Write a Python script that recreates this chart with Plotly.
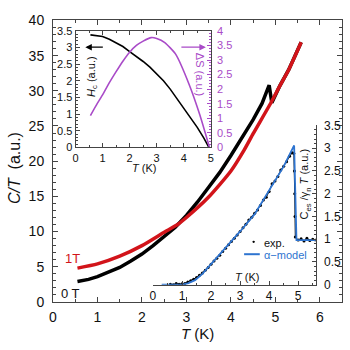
import plotly.graph_objects as go

# ---------------- data ----------------
# main panel: C/T vs T
t0 = [0.55, 0.8, 1.0, 1.25, 1.5, 1.75, 2.0, 2.25, 2.5, 2.75, 3.0, 3.25, 3.5, 3.75, 4.0, 4.25, 4.5, 4.7, 4.86, 4.92, 5.1, 5.3, 5.58]
c0 = [2.9, 3.2, 3.6, 4.2, 4.9, 5.8, 6.8, 8.0, 9.3, 10.6, 12.3, 14.2, 16.3, 18.4, 20.8, 23.3, 25.9, 28.2, 30.8, 28.3, 30.7, 33.0, 36.9]
t1 = [0.55, 1.0, 1.5, 2.0, 2.5, 2.8, 3.0, 3.5, 4.0, 4.3, 4.5, 4.9, 5.1, 5.3, 5.58]
c1 = [4.8, 5.4, 6.5, 8.0, 9.9, 11.0, 12.0, 14.9, 18.6, 21.6, 23.9, 28.3, 30.7, 33.0, 36.9]

# inset 1: critical field and entropy difference
ti = [0.55, 0.8, 1.0, 1.25, 1.5, 1.75, 2.0, 2.25, 2.5, 2.75, 3.0, 3.25, 3.5, 3.75, 4.0, 4.25, 4.5, 4.75, 4.93]
hc = [3.38, 3.36, 3.33, 3.25, 3.15, 3.03, 2.88, 2.74, 2.58, 2.41, 2.22, 2.0, 1.75, 1.47, 1.18, 0.9, 0.6, 0.27, 0.0]
ts = [0.55, 0.8, 1.0, 1.25, 1.5, 1.75, 2.0, 2.25, 2.5, 2.8, 3.0, 3.3, 3.7, 4.2, 4.6, 4.95]
ds = [1.09, 1.5, 1.8, 2.22, 2.6, 2.96, 3.27, 3.5, 3.65, 3.77, 3.74, 3.6, 3.2, 2.16, 1.1, 0.0]

# inset 2: electronic specific heat
te = [0.6, 0.7, 0.8, 0.9, 1.0, 1.1, 1.2, 1.3, 1.4, 1.5, 1.6, 1.7, 1.8, 1.9, 2.0, 2.1, 2.2, 2.3, 2.4,
      2.5, 2.6, 2.7, 2.8, 2.9, 3.0, 3.1, 3.2, 3.3, 3.4, 3.5, 3.6, 3.7, 3.8, 3.9, 4.0, 4.1, 4.2, 4.3,
      4.4, 4.5, 4.6, 4.7, 4.8, 4.85, 4.87, 4.88, 4.89, 4.9, 5.0, 5.1, 5.2, 5.3, 5.4, 5.5, 5.6]
ce = [0.01, 0.0, 0.03, 0.01, 0.02, 0.03, 0.06, 0.09, 0.12, 0.16, 0.21, 0.26, 0.32, 0.38, 0.45, 0.52,
      0.58, 0.65, 0.73, 0.80, 0.88, 0.95, 1.02, 1.09, 1.17, 1.25, 1.33, 1.42, 1.48, 1.57, 1.64, 1.74,
      1.86, 1.92, 2.05, 2.22, 2.28, 2.38, 2.52, 2.60, 2.70, 2.82, 2.90, 2.88, 2.5, 2.0, 1.5, 1.05,
      0.98, 1.01, 0.96, 1.02, 0.97, 1.0, 0.98]
tm = [0.3, 1.0, 1.2, 1.45, 1.7, 2.0, 2.5, 3.0, 3.5, 4.0, 4.5, 4.86, 4.94, 5.6]
cm = [0.0, 0.0, 0.03, 0.1, 0.24, 0.45, 0.82, 1.17, 1.55, 2.08, 2.6, 3.06, 0.98, 0.98]

xticks_main = [0, 1, 2, 3, 4, 5, 6]

RED = "#D2141A"
PURPLE = "#A94BC8"
BLUE = "#2E74D0"
AX = "#444444"
FONT = "Arial, Liberation Sans, sans-serif"

W = H = 350
def px(x):
    return x / W
def py(y):
    return 1 - y / H

fig = go.Figure()
fig.add_trace(go.Scatter(x=t0, y=c0, mode="lines", line=dict(color="black", width=3.5), xaxis="x", yaxis="y"))
fig.add_trace(go.Scatter(x=t1, y=c1, mode="lines", line=dict(color=RED, width=3.5, shape="spline", smoothing=0.6), xaxis="x", yaxis="y"))

fig.add_trace(go.Scatter(x=ti, y=hc, mode="lines", line=dict(color="black", width=1.6), xaxis="x2", yaxis="y2"))
fig.add_trace(go.Scatter(x=ts, y=ds, mode="lines", line=dict(color=PURPLE, width=1.6, shape="spline", smoothing=0.5), xaxis="x2", yaxis="y3"))

fig.add_trace(go.Scatter(x=te, y=ce, mode="lines+markers", line=dict(color="black", width=1),
                         marker=dict(color="black", size=3), xaxis="x3", yaxis="y4"))
fig.add_trace(go.Scatter(x=tm, y=cm, mode="lines", line=dict(color=BLUE, width=1.8), xaxis="x3", yaxis="y4"))

common = dict(showgrid=False, zeroline=False, showline=True, linecolor=AX, linewidth=1,
              ticks="inside", tickcolor=AX, tickfont=dict(family=FONT, color="#111"))

fig.update_layout(
    width=W, height=H, margin=dict(l=0, r=0, t=0, b=0),
    paper_bgcolor="white", plot_bgcolor="rgba(0,0,0,0)", showlegend=False,
    xaxis=dict(common, domain=[px(50), px(345)], range=[0, 6.5], tickvals=xticks_main, ticklen=5,
               mirror="ticks", anchor="y", tickfont=dict(family=FONT, size=14, color="#111"),
               ticklabelstandoff=2,
               title=dict(text="<i>T</i> (K)", font=dict(family=FONT, size=15, color="#111"), standoff=3),
               minor=dict(dtick=0.5, ticklen=3, ticks="inside", tickcolor=AX)),
    yaxis=dict(common, domain=[py(308), py(13)], range=[0, 40], dtick=5, ticklen=5, mirror="ticks",
               anchor="x", tickfont=dict(family=FONT, size=14, color="#111"), ticklabelstandoff=5,
               minor=dict(dtick=1, ticklen=3, ticks="inside", tickcolor=AX)),
    xaxis2=dict(common, domain=[px(73), px(211)], range=[0, 5], dtick=1, ticklen=4, mirror="ticks",
                anchor="y2", tickfont=dict(family=FONT, size=11, color="#111"),
                minor=dict(dtick=0.5, ticklen=2, ticks="inside", tickcolor=AX)),
    yaxis2=dict(common, domain=[py(146), py(24)], range=[0, 3.5], dtick=0.5, ticklen=4, mirror=True,
                anchor="x2", tickfont=dict(family=FONT, size=11, color="#111"),
                minor=dict(dtick=0.1, ticklen=2, ticks="inside", tickcolor=AX)),
    yaxis3=dict(common, overlaying="y2", side="right", anchor="x2", range=[0, 4], dtick=0.5, ticklen=4,
                tickcolor=PURPLE, tickfont=dict(family=FONT, size=11, color=PURPLE), ticklabelstandoff=3,
                minor=dict(dtick=0.1, ticklen=2, ticks="inside", tickcolor=PURPLE)),
    xaxis3=dict(common, domain=[px(152), px(318)], range=[0, 5.6], dtick=1, ticklen=4, anchor="y4",
                tickfont=dict(family=FONT, size=12, color="#111"),
                minor=dict(dtick=0.5, ticklen=2, ticks="inside", tickcolor=AX)),
    yaxis4=dict(common, domain=[py(290), py(123)], range=[0, 3.5], dtick=0.5, ticklen=4, side="right",
                anchor="x3", tickfont=dict(family=FONT, size=12, color="#111"), ticklabelstandoff=5,
                minor=dict(dtick=0.1, ticklen=2, ticks="inside", tickcolor=AX)),
)

ann = []
def text(x, y, s, size=12, color="#111", angle=0, xanchor="center", yanchor="middle"):
    ann.append(dict(xref="paper", yref="paper", x=px(x), y=py(y), text=s, showarrow=False,
                    font=dict(family=FONT, size=size, color=color), textangle=angle,
                    xanchor=xanchor, yanchor=yanchor))

text(11, 168, "<i>C/T</i>  (a.u.)", size=16, angle=-90)
text(70, 263, "1T", size=13, color=RED)
text(68, 299, "0 T", size=13)
text(143, 168, "<i>T</i> (K)", size=11)
text(89, 72, "<i>H</i><sub>c</sub> (a.u.)", size=11, angle=-90)
text(200, 69, "ΔS (a.u.)", size=11, color=PURPLE, angle=90)
text(248, 282, "<i>T</i> (K)", size=11)
text(307, 184, "C<sub>es</sub> /γ<sub>n</sub> <i>T</i> (a.u.)", size=11, angle=-90)
text(263, 246, "exp.", size=11, xanchor="left")
text(263, 259, "α−model", size=11, color=BLUE, xanchor="left")

ann.append(dict(xref="paper", yref="paper", x=px(83), y=py(41), ax=19, ay=0, text="", showarrow=True,
                arrowhead=2, arrowsize=1, arrowwidth=1.3, arrowcolor="black"))
ann.append(dict(xref="paper", yref="paper", x=px(206), y=py(41), ax=-26, ay=0, text="", showarrow=True,
                arrowhead=2, arrowsize=1, arrowwidth=1.3, arrowcolor=PURPLE))
fig.update_layout(annotations=ann)

fig.update_layout(shapes=[
    dict(type="line", xref="paper", yref="paper", x0=px(245), x1=px(261), y0=py(258), y1=py(258),
         line=dict(color=BLUE, width=2)),
    dict(type="circle", xref="paper", yref="paper", x0=px(253.5), x1=px(256), y0=py(246.2), y1=py(243.8),
         fillcolor="black", line=dict(color="black", width=0)),
])

fig.write_html("out.html")
